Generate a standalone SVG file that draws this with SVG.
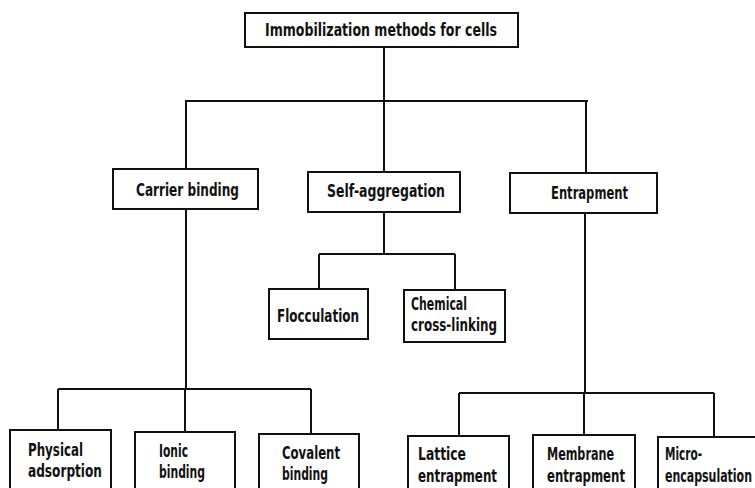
<svg xmlns="http://www.w3.org/2000/svg" width="755" height="488" viewBox="0 0 755 488">
<style>
.box{fill:#fff;stroke:#111;stroke-width:2}
.ln{fill:none;stroke:#111;stroke-width:2}
text{font-family:"DejaVu Sans Condensed","Liberation Sans",sans-serif;font-size:18px;fill:#111;font-weight:600}
</style>
<rect width="755" height="488" fill="#fff"/>
<g id="connectors">
<path class="ln" d="M384 47V101M185 101H588M186 101V169M384 101V172M586 101V173"/>
<path class="ln" d="M384 212V254M319 254H455M319 254V289M455 254V290"/>
<path class="ln" d="M186 209V389M58 389H311M58 389V430M185 389V432M311 389V434"/>
<path class="ln" d="M585 213V393M459 393H714M459 393V436M584 393V435M714 393V437"/>
</g>
<g id="root"><rect class="box" x="245" y="13" width="273" height="34"/><text x="265" y="36" textLength="232" lengthAdjust="spacingAndGlyphs">Immobilization methods for cells</text></g>
<g id="carrier"><rect class="box" x="113" y="169" width="145" height="40"/><text x="136" y="196" textLength="103" lengthAdjust="spacingAndGlyphs">Carrier binding</text></g>
<g id="selfagg"><rect class="box" x="308" y="172" width="152" height="40"/><text x="327" y="197" textLength="118" lengthAdjust="spacingAndGlyphs">Self-aggregation</text></g>
<g id="entrapment"><rect class="box" x="510" y="173" width="147" height="40"/><text x="551" y="199" textLength="77" lengthAdjust="spacingAndGlyphs">Entrapment</text></g>
<g id="flocculation"><rect class="box" x="269" y="289" width="99" height="50"/><text x="277" y="322" textLength="82" lengthAdjust="spacingAndGlyphs">Flocculation</text></g>
<g id="chemical"><rect class="box" x="404" y="290" width="101" height="52"/><text x="411" y="310" textLength="56" lengthAdjust="spacingAndGlyphs">Chemical</text><text x="411" y="331" textLength="86" lengthAdjust="spacingAndGlyphs">cross-linking</text></g>
<g id="physical"><rect class="box" x="10" y="430" width="101" height="70"/><text x="28" y="456" textLength="55" lengthAdjust="spacingAndGlyphs">Physical</text><text x="28" y="477" textLength="74" lengthAdjust="spacingAndGlyphs">adsorption</text></g>
<g id="ionic"><rect class="box" x="135" y="432" width="100" height="70"/><text x="159" y="457" textLength="29" lengthAdjust="spacingAndGlyphs">Ionic</text><text x="159" y="478" textLength="46" lengthAdjust="spacingAndGlyphs">binding</text></g>
<g id="covalent"><rect class="box" x="259" y="434" width="100" height="70"/><text x="282" y="459" textLength="58" lengthAdjust="spacingAndGlyphs">Covalent</text><text x="282" y="480" textLength="46" lengthAdjust="spacingAndGlyphs">binding</text></g>
<g id="lattice"><rect class="box" x="408" y="436" width="101" height="70"/><text x="418" y="460" textLength="48" lengthAdjust="spacingAndGlyphs">Lattice</text><text x="418" y="482" textLength="79" lengthAdjust="spacingAndGlyphs">entrapment</text></g>
<g id="membrane"><rect class="box" x="533" y="435" width="102" height="70"/><text x="547" y="460" textLength="67" lengthAdjust="spacingAndGlyphs">Membrane</text><text x="547" y="482" textLength="78" lengthAdjust="spacingAndGlyphs">entrapment</text></g>
<g id="micro"><rect class="box" x="658" y="437" width="120" height="70"/><text x="665" y="460" textLength="37" lengthAdjust="spacingAndGlyphs">Micro-</text><text x="665" y="482" textLength="87" lengthAdjust="spacingAndGlyphs">encapsulation</text></g>
</svg>
